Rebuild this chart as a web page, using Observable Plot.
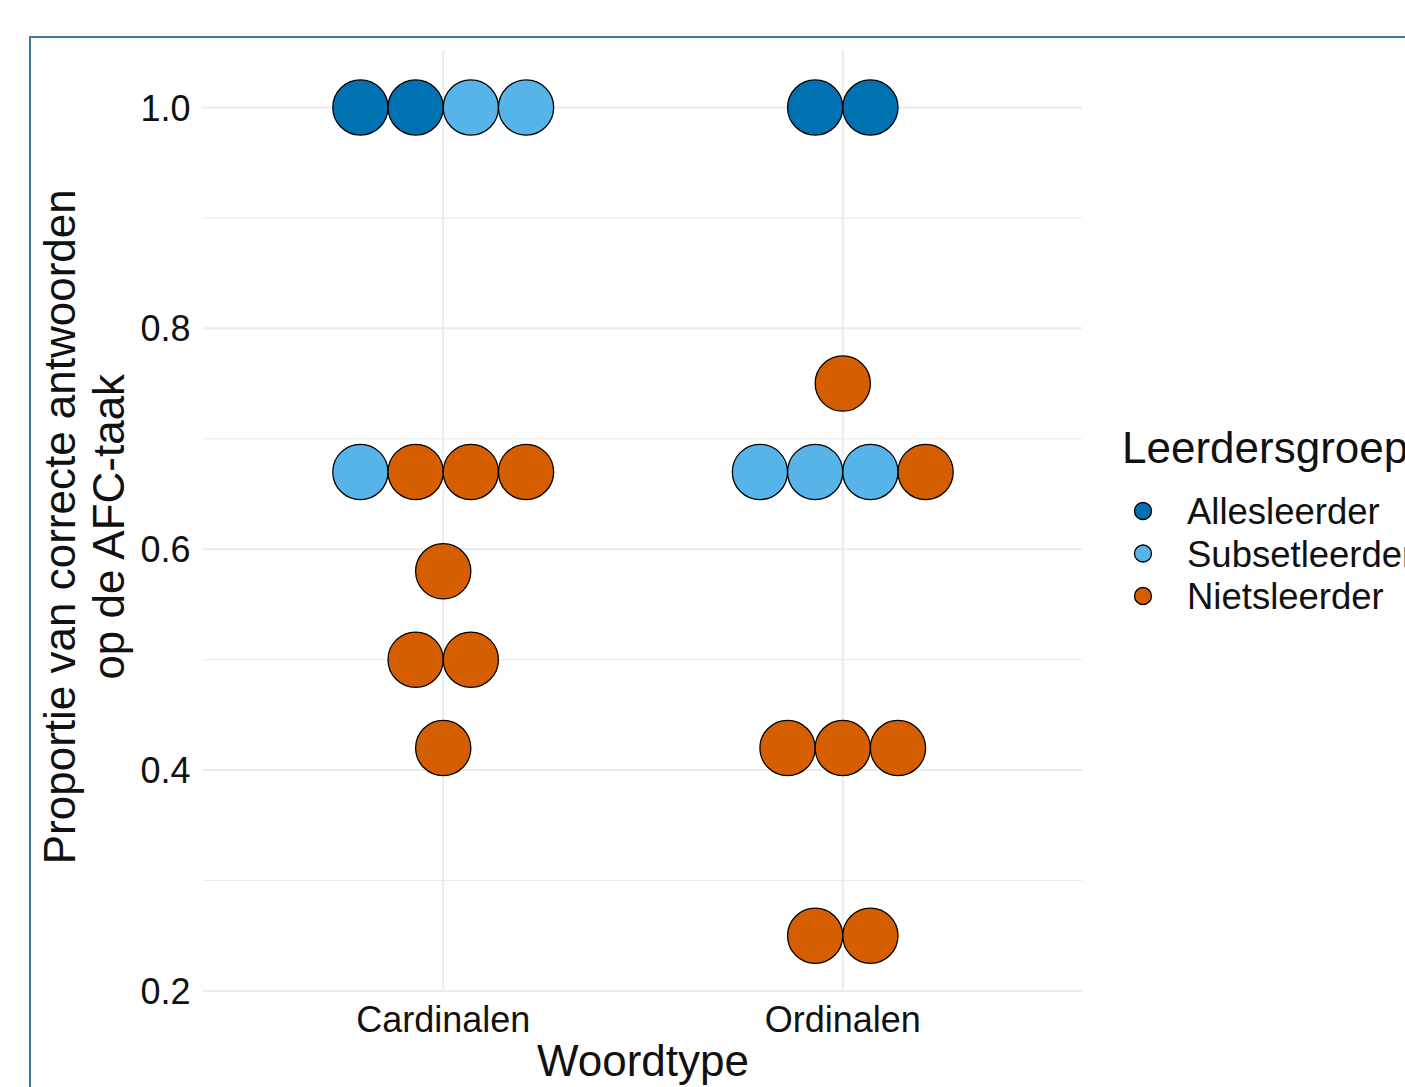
<!DOCTYPE html>
<html><head><meta charset="utf-8">
<script src="https://cdn.jsdelivr.net/npm/d3@7"></script>
<script src="https://cdn.jsdelivr.net/npm/@observablehq/plot@0.6"></script>
<style>
html,body{margin:0;padding:0;background:#fff;overflow:hidden;width:1405px;height:1087px;}
#wrap{position:relative;width:1405px;height:1087px;overflow:hidden;}
#chart{position:absolute;left:0;top:0;}
#frame{position:absolute;left:29px;top:36px;width:1500px;height:1200px;border:2px solid #3b7b9e;pointer-events:none;}
</style></head><body>
<div id="wrap"><div id="chart"></div><div id="frame"></div></div>
<script>
// ---- data ----
const types = ["Cardinalen", "Ordinalen"];
const groups = ["Allesleerder", "Subsetleerder", "Nietsleerder"];
const colors = ["#0072B2", "#56B4E9", "#D55E00"];

const obsType = [
  "Cardinalen","Cardinalen","Cardinalen","Cardinalen",
  "Cardinalen","Cardinalen","Cardinalen","Cardinalen",
  "Cardinalen","Cardinalen","Cardinalen","Cardinalen",
  "Ordinalen","Ordinalen",
  "Ordinalen","Ordinalen","Ordinalen",
  "Ordinalen","Ordinalen",
  "Ordinalen","Ordinalen","Ordinalen",
  "Ordinalen","Ordinalen"
];
const obsGroup = [
  "Allesleerder","Allesleerder","Subsetleerder","Subsetleerder",
  "Subsetleerder","Nietsleerder","Nietsleerder","Nietsleerder",
  "Nietsleerder","Nietsleerder","Nietsleerder","Nietsleerder",
  "Allesleerder","Allesleerder",
  "Subsetleerder","Subsetleerder","Subsetleerder",
  "Nietsleerder","Nietsleerder",
  "Nietsleerder","Nietsleerder","Nietsleerder",
  "Nietsleerder","Nietsleerder"
];
const obsValue = [
  1.0, 1.0, 1.0, 1.0,
  0.67, 0.67, 0.67, 0.67,
  0.58, 0.5, 0.5, 0.42,
  1.0, 1.0,
  0.67, 0.67, 0.67,
  0.75, 0.67,
  0.42, 0.42, 0.42,
  0.25, 0.25
];
const yMajor = [0.2, 0.4, 0.6, 0.8, 1.0];
const yMinor = [0.3, 0.5, 0.7, 0.9];
const binwidth = 0.05;

const xTitle = "Woordtype";
const yTitle = "Proportie van correcte antwoorden\nop de AFC-taak";
const legendTitle = "Leerdersgroep";

// ---- layout ----
const W = 1405, H = 1087;
const mL = 203, mR = 323, mT = 50, mB = 96.5;
const yDomain = [0.2, 1.0516];
const xDomain = [0.4, 2.6];
const pxPerY = (H - mT - mB) / (yDomain[1] - yDomain[0]);
const pxPerX = (W - mL - mR) / (xDomain[1] - xDomain[0]);
const diam = binwidth * pxPerY;
const font = "'Liberation Sans', Arial, sans-serif";

// ---- stacking (centered, like geom_dotplot stackdir = "center") ----
const obs = obsValue.map((v, k) => ({type: obsType[k], group: obsGroup[k], value: v}));
const bins = d3.group(obs, d => d.type + "|" + d.value);
for (const [, arr] of bins) {
  const n = arr.length;
  arr.forEach((d, i) => {
    d.xpos = types.indexOf(d.type) + 1 + (i - (n - 1) / 2) * diam / pxPerX;
  });
}

const plot = Plot.plot({
  width: W, height: H,
  marginLeft: mL, marginRight: mR, marginTop: mT, marginBottom: mB,
  style: {fontFamily: font, background: "transparent"},
  x: {type: "linear", domain: xDomain, axis: null},
  y: {domain: yDomain, axis: null},
  color: {domain: groups, range: colors},
  marks: [
    Plot.ruleY(yMinor, {stroke: "#ebebeb", strokeWidth: 1}),
    Plot.ruleY(yMajor, {stroke: "#ebebeb", strokeWidth: 2}),
    Plot.ruleX([1, 2], {stroke: "#ebebeb", strokeWidth: 2}),
    Plot.axisY(yMajor, {tickSize: 0, tickPadding: 13, fontSize: 36, fill: "#111", dy: 1.5,
      tickFormat: d3.format(".1f"), label: null}),
    Plot.axisX([1, 2], {tickSize: 0, tickPadding: 15, fontSize: 36, fill: "#111",
      tickFormat: d => types[d - 1], label: null}),
    Plot.dot(obs, {x: "xpos", y: "value", r: diam / 2, fill: "group", stroke: "black", strokeWidth: 1.3}),
    Plot.text([xTitle], {text: d => d, frameAnchor: "bottom", lineAnchor: "top", dy: 54,
      fontSize: 44, fill: "#111"}),
    Plot.text([yTitle], {text: d => d, frameAnchor: "left", rotate: -90, lineAnchor: "top",
      textAnchor: "middle", lineHeight: 1.11, dx: -163, dy: 6, fontSize: 44, fill: "#111"})
  ]
});

// ---- legend ----
const svg = d3.select(plot);
const lg = svg.append("g").attr("font-family", font).attr("fill", "#111").attr("text-anchor", "start");
lg.append("text").attr("x", 1122).attr("y", 463).attr("font-size", 44).text(legendTitle);
groups.forEach((g, i) => {
  const cy = 511 + i * 42.5;
  lg.append("circle").attr("cx", 1143).attr("cy", cy).attr("r", 8.5)
    .attr("fill", colors[i]).attr("stroke", "black").attr("stroke-width", 1.3);
  lg.append("text").attr("x", 1187).attr("y", cy + 13).attr("font-size", 36.5).text(g);
});

document.getElementById("chart").appendChild(plot);
</script>
</body></html>
